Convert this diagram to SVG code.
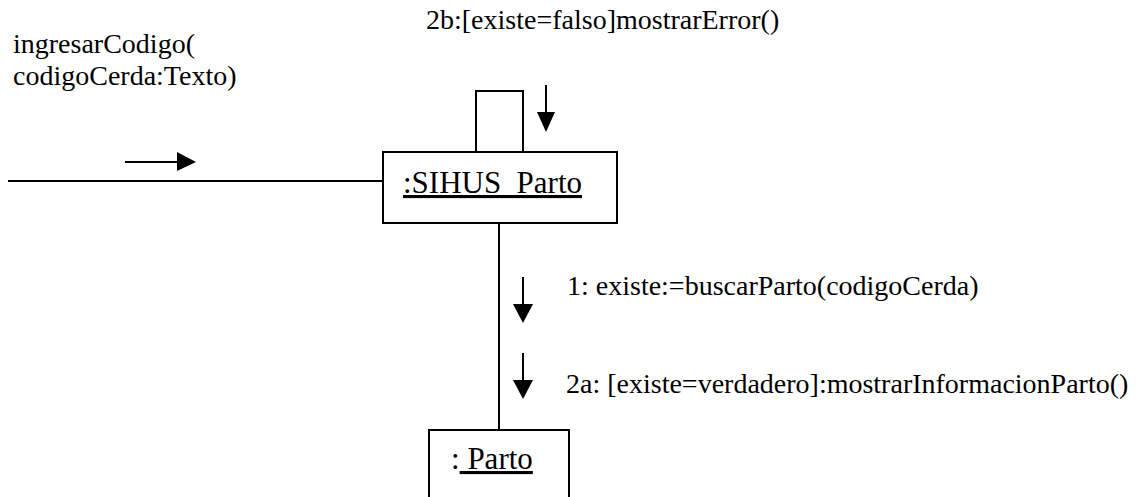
<svg xmlns="http://www.w3.org/2000/svg" width="1148" height="497" viewBox="0 0 1148 497">
<style>
.box{fill:#fff;stroke:#000;stroke-width:2}
.ln{fill:none;stroke:#000;stroke-width:2}
.ah{fill:#000;stroke:none}
</style>
<rect width="1148" height="497" fill="#fff"/>
<g id="connectors">
<line class="ln" x1="8" y1="181" x2="383" y2="181"/>
<path class="ln" d="M476,152 V91 H523 V152"/>
<line class="ln" x1="499" y1="223" x2="499" y2="430"/>
<g id="msg-ingresar">
<line class="ln" x1="125" y1="162" x2="180" y2="162"/>
<polygon class="ah" points="177,152 196,162 177,171"/>
<text x="13" y="53" font-family="'Liberation Serif', serif" font-size="28">ingresarCodigo(</text>
<text x="13" y="85" font-family="'Liberation Serif', serif" font-size="28">codigoCerda:Texto)</text>
</g>
<g id="msg-2b">
<line class="ln" x1="546" y1="85" x2="546" y2="114"/>
<polygon class="ah" points="537,112 555,112 546,132"/>
<text x="426" y="29" font-family="'Liberation Serif', serif" font-size="28">2b:[existe=falso]mostrarError()</text>
</g>
<g id="msg-1">
<line class="ln" x1="523" y1="277" x2="523" y2="307"/>
<polygon class="ah" points="513,304 533,304 523,323"/>
<text x="567" y="295" font-family="'Liberation Serif', serif" font-size="28">1: existe:=buscarParto(codigoCerda)</text>
</g>
<g id="msg-2a">
<line class="ln" x1="523" y1="353" x2="523" y2="383"/>
<polygon class="ah" points="513,380 533,380 523,399"/>
<text x="566" y="393" font-family="'Liberation Serif', serif" font-size="28">2a: [existe=verdadero]:mostrarInformacionParto()</text>
</g>
</g>
<g id="sihus">
<rect class="box" x="383" y="152" width="234" height="71"/>
<text x="403" y="193" font-family="'Liberation Serif', serif" font-size="31" textLength="179" lengthAdjust="spacingAndGlyphs" text-decoration="underline">:SIHUS_Parto</text>
</g>
<g id="parto">
<rect class="box" x="429" y="430" width="140" height="90"/>
<text x="451" y="469" font-family="'Liberation Serif', serif" font-size="31">:<tspan text-decoration="underline"> Parto</tspan></text>
</g>
</svg>
